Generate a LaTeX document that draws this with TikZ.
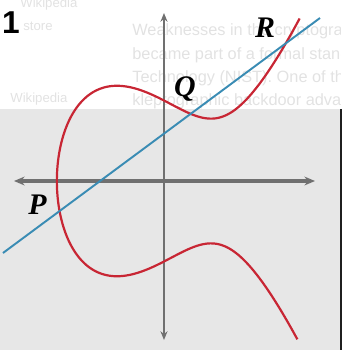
\documentclass[tikz,border=0pt]{standalone}
\usepackage{fontspec}
\setmainfont{Liberation Serif}
\newfontfamily\websans{Liberation Sans}
\usetikzlibrary{arrows.meta}
\definecolor{CurveRed}{RGB}{200,38,52}
\definecolor{LineBlue}{RGB}{58,140,180}
\definecolor{AxisGray}{RGB}{112,112,112}
\definecolor{PageGray}{RGB}{231,231,231}
\definecolor{GhostGray}{RGB}{226,226,226}
\tikzset{
	axisline/.style={AxisGray, line width=1.1pt},
	ptlabel/.style={inner sep=0pt, anchor=base, font=\fontsize{17}{17}\selectfont\bfseries\itshape},
	webtext/.style={GhostGray, inner sep=0pt, anchor=base west, font=\websans\fontsize{9.3}{9.3}\selectfont},
	sidetext/.style={GhostGray, inner sep=0pt, anchor=base west, font=\websans\fontsize{7.5}{7.5}\selectfont},
	declare function={ecx(\t)=\t*\t-2.279; ecy(\t)=\t*sqrt(ecx(\t)*ecx(\t)-2.279*ecx(\t)+2.1938);}
}

\begin{document}
\begin{tikzpicture}[x=0.94cm, y=0.72cm]
	\useasboundingbox (-3.489,-4.694) rectangle (3.787,5.028);
	% page behind the figure
	\begin{scope}
		\clip (-3.489,2.0) rectangle (3.745,5.028);
		\node[sidetext] (side1) at (-3.064,4.833) {Wikipedia};
		\node[sidetext] (side2) at (-3.000,4.194) {store};
		\node[sidetext] (side3) at (-3.277,2.167) {Wikipedia};
		\node[webtext] (web1) at (-0.681,4.028) {Weaknesses in the cryptographic security};
		\node[webtext] (web2) at (-0.681,3.389) {became part of a formal standard endorsed};
		\node[webtext] (web3) at (-0.681,2.750) {Technology (NIST). One of the weaknesses};
		\node[webtext] (web4) at (-0.681,2.111) {kleptographic backdoor advantageous};
	\end{scope}
	\fill[PageGray] (-3.489,-4.694) rectangle (3.745,2.0);
	\fill[black!88] (3.745,-4.694) rectangle (3.787,2.0);
	\node[font=\websans\bfseries\fontsize{18}{18}\selectfont, inner sep=0pt, anchor=base] (num) at (-3.255,4.111) {1};
	% axes
	\coordinate (xl) at (-3.191,0);
	\coordinate (xr) at (3.213,0);
	\coordinate (yb) at (0,-4.417);
	\coordinate (yt) at (0,4.667);
	\draw[axisline, line width=1.8pt, {Stealth[length=6pt,width=5pt]}-{Stealth[length=6pt,width=5pt]}] (xl) -- (xr);
	\draw[axisline, {Stealth[length=5pt,width=4pt]}-{Stealth[length=5pt,width=4pt]}] (yb) -- (yt);
	% the curve and the secant
	\draw[CurveRed, line width=1.25pt, smooth] plot[domain=-2.262:2.275, samples=220, variable=\t] ({ecx(\t)},{ecy(\t)});
	\coordinate (L1) at (-3.426,-2.0);
	\coordinate (L2) at (3.319,4.528);
	\draw[LineBlue, line width=1.1pt] (L1) -- (L2);
	\node[ptlabel] (labP) at (-2.691,-0.944) {P};
	\node[ptlabel] (labQ) at (0.447,2.361) {Q};
	\node[ptlabel] (labR) at (2.149,4.0) {R};
\end{tikzpicture}
\end{document}
